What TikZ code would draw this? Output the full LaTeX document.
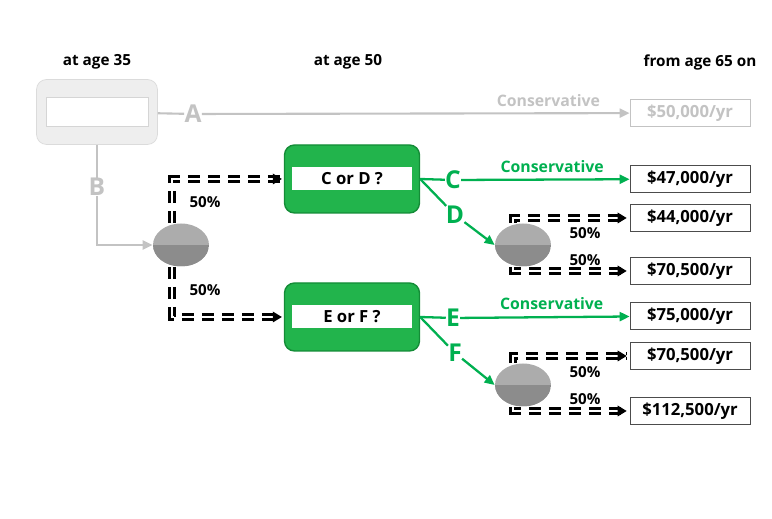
\documentclass[tikz,border=0pt]{standalone}
\usepackage{fontspec}
\setmainfont{Open Sans}
\usetikzlibrary{shapes.geometric,arrows.meta,positioning,decorations.markings}
\definecolor{choicegreen}{RGB}{34,180,76}
\definecolor{choiceedge}{RGB}{20,140,55}
\definecolor{pathgreen}{RGB}{0,176,80}
\definecolor{fadegray}{RGB}{195,195,195}
\definecolor{fadefill}{RGB}{238,238,238}
\definecolor{chancetop}{RGB}{172,172,172}
\definecolor{chancebot}{RGB}{140,140,140}
\begin{document}
\begin{tikzpicture}[
        x=0.02cm, y=-0.02cm,
        every node/.style={font=\bfseries\fontsize{9.5}{11}\selectfont, inner sep=0pt},
        header/.style={font=\bfseries\fontsize{8.7}{10}\selectfont},
        startbox/.style={draw=fadegray!60, fill=fadefill, rounded corners=0.2cm, minimum width=2.42cm, minimum height=1.3cm},
        startin/.style={draw=fadegray!70, fill=white, minimum width=2.04cm, minimum height=0.58cm},
        choicebox/.style={draw=choiceedge, fill=choicegreen, line width=0.8pt, rounded corners=0.2cm, minimum width=2.7cm, minimum height=1.36cm},
        question/.style={fill=white, minimum width=2.4cm, minimum height=0.46cm},
        chance/.style={ellipse, fill=chancetop, minimum width=1.12cm, minimum height=0.86cm,
            path picture={\fill[chancebot] (path picture bounding box.west) rectangle (path picture bounding box.south east);}},
        payout/.style={draw=black!70, fill=white, minimum width=2.4cm, minimum height=0.54cm},
        fadepay/.style={payout, draw=fadegray, text=fadegray},
        optgray/.style={text=fadegray, font=\bfseries\fontsize{14}{16}\selectfont},
        optgreen/.style={text=pathgreen, font=\bfseries\fontsize{14}{16}\selectfont},
        odds/.style={font=\bfseries\fontsize{8.6}{10}\selectfont},
        conslabel/.style={font=\bfseries\fontsize{9}{10}\selectfont, above=0.12cm},
        grayline/.style={draw=fadegray, line width=1.2pt, -{Triangle[length=0.2cm,width=0.18cm]}},
        greenline/.style={draw=pathgreen, line width=1.3pt, -{Triangle[length=0.2cm,width=0.18cm]}},
        split/.style={draw=black, double=white, line width=1.5pt, double distance=1.3pt,
            dash pattern=on 0.24cm off 0.16cm,
            postaction={draw=none, decorate, decoration={markings, mark=at position 1 with
                {\fill[black] (0,0) -- (-0.18cm,0.11cm) -- (-0.18cm,-0.11cm) -- cycle;}}}}
        ]
        \useasboundingbox (0,0) rectangle (772,519);
        % column headings
        \node[header] (h35) at (97,62) {at age 35};
        \node[header] (h50) at (348,62) {at age 50};
        \node[header] (h65) at (700,62) {from age 65 on};
        % decisions
        \node[startbox] (start) at (97,112) {};
        \node[startin] (startq) at (start) {};
        \node[choicebox] (cd) at (352,179) {};
        \node[question] (cdq) at (cd) {C or D ?};
        \node[choicebox] (ef) at (352,317) {};
        \node[question] (efq) at (ef) {E or F ?};
        % chances
        \node[chance] (ch1) at (181,245) {};
        \node[chance] (ch2) at (523,245) {};
        \node[chance] (ch3) at (523,385) {};
        % payouts
        \node[fadepay] (p50) at (690,113) {\$50,000/yr};
        \node[payout] (p47) at (690,179) {\$47,000/yr};
        \node[payout] (p44) at (690,218) {\$44,000/yr};
        \node[payout] (p70a) at (690,271) {\$70,500/yr};
        \node[payout] (p75) at (690,316) {\$75,000/yr};
        \node[payout] (p70b) at (690,356) {\$70,500/yr};
        \node[payout] (p112) at (690,411) {\$112,500/yr};
        % options
        \node[optgray] (A) at (193,114) {A};
        \node[optgray] (B) at (97,187) {B};
        \node[optgreen] (C) at (453,180) {C};
        \node[optgreen] (D) at (455,215) {D};
        \node[optgreen] (E) at (453,318) {E};
        \node[optgreen] (F) at (455,353) {F};
        % odds
        \node[odds] (o1) at (205,202) {50\%};
        \node[odds] (o2) at (205,290) {50\%};
        \node[odds] (o3) at (585,233) {50\%};
        \node[odds] (o4) at (585,260) {50\%};
        \node[odds] (o5) at (585,372) {50\%};
        \node[odds] (o6) at (585,399) {50\%};
        % gray paths
        \draw[grayline, -] (start) -- (A);
        \draw[grayline] (A) -- node[conslabel, pos=0.81, text=fadegray] {Conservative} (p50);
        \draw[grayline, -] (start) -- (B);
        \draw[grayline] (B) |- (ch1);
        % green paths
        \draw[greenline, -] (cd.east) -- (C);
        \draw[greenline] (C) -- node[conslabel, pos=0.54, text=pathgreen] {Conservative} (p47);
        \draw[greenline, -] (cd.east) -- (D);
        \draw[greenline] (D) -- (ch2.west);
        \draw[greenline, -] (ef.east) -- (E);
        \draw[greenline] (E) -- node[conslabel, pos=0.54, text=pathgreen] {Conservative} (p75);
        \draw[greenline, -] (ef.east) -- (F);
        \draw[greenline] (F) -- (ch3.west);
        % chance outcomes
        \draw[split] ([xshift=-0.18cm]ch1.north) |- ([xshift=-0.04cm]cd.west);
        \draw[split] ([xshift=-0.18cm]ch1.south) |- ([xshift=-0.04cm]ef.west);
        \draw[split] ([xshift=-0.2cm]ch2.north) |- ([xshift=-0.06cm]p44.west);
        \draw[split] ([xshift=-0.2cm]ch2.south) |- ([xshift=-0.06cm]p70a.west);
        \draw[split] ([xshift=-0.2cm]ch3.north) |- ([xshift=-0.06cm]p70b.west);
        \draw[split] ([xshift=-0.2cm]ch3.south) |- ([xshift=-0.06cm]p112.west);
    \end{tikzpicture}
\end{document}
